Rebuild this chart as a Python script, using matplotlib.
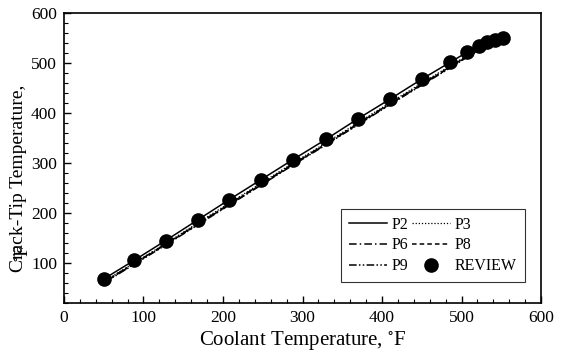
import matplotlib
matplotlib.use("Agg")
import matplotlib.pyplot as plt
from matplotlib.ticker import MultipleLocator

plt.rcParams['font.family'] = ['Liberation Serif', 'DejaVu Serif']
plt.rcParams['mathtext.fontset'] = 'stix'

# Data
review_x = [50, 88, 128, 168, 208, 248, 288, 330, 370, 410, 450, 486, 507, 522, 532, 542, 552]
review_y = [68, 105, 145, 186, 227, 267, 307, 348, 389, 428, 468, 502, 522, 535, 542, 547, 550]

line_x = [50, 88, 128, 168, 208, 248, 288, 330, 370, 410, 450, 486, 507, 522, 532, 542, 552]
p2_y = [68, 105, 145, 186, 227, 267, 307, 348, 389, 428, 468, 502, 522, 535, 542, 547, 550]
p3_y = [63, 100, 139, 180, 220, 260, 300, 341, 381, 421, 460, 495, 515, 529, 537, 543, 547]
p6_y = [62, 99, 138, 178, 218, 258, 298, 339, 379, 419, 458, 493, 514, 528, 536, 542, 546]
p8_y = [61, 98, 137, 177, 217, 257, 297, 338, 378, 418, 457, 492, 513, 527, 535, 541, 546]
p9_y = [60, 97, 136, 176, 216, 256, 296, 337, 377, 417, 456, 491, 512, 526, 534, 540, 545]

fig = plt.figure(figsize=(5.66, 3.56), dpi=100)
ax = fig.add_axes([0.113, 0.149, 0.843, 0.814])

lw = 1.1
h_p2, = ax.plot(line_x, p2_y, color='black', lw=lw, linestyle='-', label='P2')
h_p3, = ax.plot(line_x, p3_y, color='black', lw=0.9, linestyle=(0, (1, 1.5)), label='P3')
h_p6, = ax.plot(line_x, p6_y, color='black', lw=lw, linestyle=(0, (5, 2, 1, 2)), label='P6')
h_p8, = ax.plot(line_x, p8_y, color='black', lw=lw, linestyle=(0, (3, 2)), label='P8')
h_p9, = ax.plot(line_x, p9_y, color='black', lw=lw, linestyle=(0, (5, 1.5, 1, 1.5, 1, 1.5)), label='P9')
h_rev, = ax.plot(review_x, review_y, 'o', color='black', markersize=9.5, label='REVIEW')

ax.set_xlim(0, 600)
ax.set_ylim(20, 600)
ax.xaxis.set_major_locator(MultipleLocator(100))
ax.xaxis.set_minor_locator(MultipleLocator(20))
ax.yaxis.set_major_locator(MultipleLocator(100))
ax.yaxis.set_minor_locator(MultipleLocator(20))
ax.set_yticks([100, 200, 300, 400, 500, 600])
ax.tick_params(which='both', direction='in', top=False, right=False, labelsize=12.5)
ax.tick_params(which='major', length=5, width=1, pad=5)
ax.tick_params(which='minor', length=3, width=0.8)
for s in ax.spines.values():
    s.set_linewidth(1.2)

ax.set_xlabel('Coolant Temperature, $^{\\circ}$F', fontsize=15, labelpad=2)
ax.set_ylabel('Crack-Tip Temperature,', fontsize=14)
ax.yaxis.set_label_coords(-0.078, 0.43)
fig.text(0.042, 0.29, '$^{\\circ}$F', rotation=90, fontsize=14, ha='center', va='center')

leg = ax.legend(handles=[h_p2, h_p6, h_p9, h_p3, h_p8, h_rev], ncol=2,
                loc='lower right', bbox_to_anchor=(0.966, 0.072), borderaxespad=0,
                frameon=True, fancybox=False, edgecolor='black', fontsize=11.5,
                handlelength=2.4, handletextpad=0.3, columnspacing=0.2,
                labelspacing=0.3, borderpad=0.5)
leg.get_frame().set_linewidth(0.8)

fig.savefig('out.png', dpi=100)
